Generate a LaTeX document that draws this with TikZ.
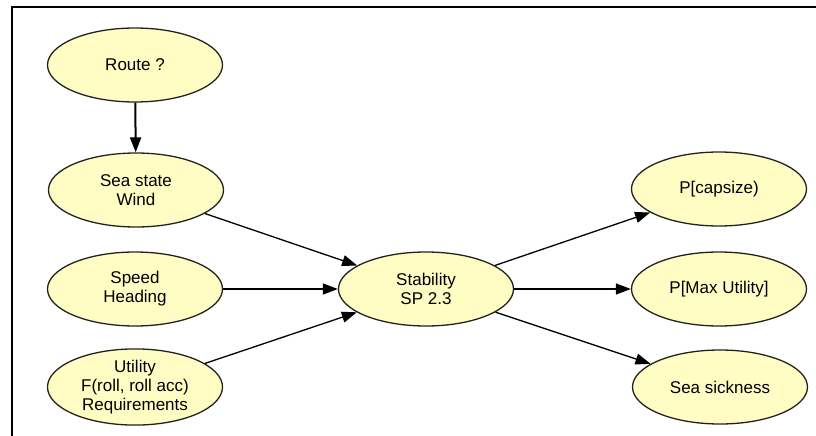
\documentclass[tikz,border=0pt]{standalone}
\usepackage{fontspec}
\setmainfont{Liberation Sans}
\usepackage{tikz}
\usetikzlibrary{arrows.meta,shapes.geometric}

\definecolor{nodefill}{RGB}{255,252,196}
\definecolor{nodeline}{RGB}{35,35,30}

\begin{document}
\begin{tikzpicture}[x=1pt,y=-1pt]
\useasboundingbox (0,0) rectangle (816,436);
\draw[line width=2pt] (11.5,436) -- (11.5,7.5) -- (816,7.5);

\begin{scope}[every node/.style={ellipse,draw=nodeline,line width=1.3pt,fill=nodefill,
              minimum width=175pt,minimum height=74pt,inner sep=0pt,align=center,
              font=\fontsize{17}{19}\selectfont}]
    \node (route) at (135,65) {Route ?};
    \node (sea) at (136,190) {Sea state\\Wind};
    \node (speed) at (135,289) {Speed\\Heading};
    \node (utility) at (135,387) {Utility\\F(roll, roll acc)\\Requirements};
    \node (stab) at (426,289) {Stability\\SP 2.3};
    \node (capsize) at (719,189) {P[capsize)};
    \node (maxutil) at (719,289) {P[Max Utility]};
    \node (sick) at (720,387) {Sea sickness};
\end{scope}

\begin{scope}[>={Triangle[length=15pt,width=11pt]},
              every edge/.style={draw=black,line width=1.3pt}]
    \path [->] (route) edge[line width=2pt] (sea);
    \path [->] (sea) edge (stab);
    \path [->] (speed) edge (stab);
    \path [->] (utility) edge (stab);
    \path [->] (stab) edge (capsize);
    \path [->] (stab) edge (maxutil);
    \path [->] (stab) edge (sick);
\end{scope}
\end{tikzpicture}
\end{document}
